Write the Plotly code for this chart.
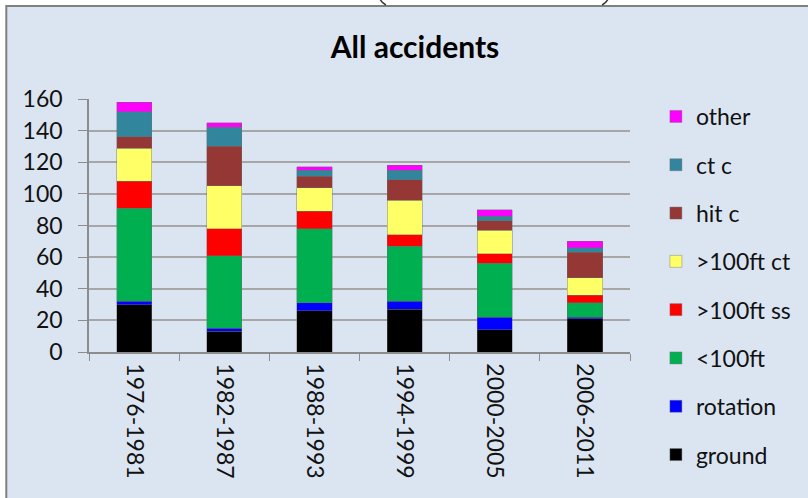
import plotly.graph_objects as go

categories = ["1976-1981", "1982-1987", "1988-1993", "1994-1999", "2000-2005", "2006-2011"]

ground = [30, 13, 26, 27, 14, 21]
rotation = [2, 2, 5, 5, 8, 1]
below_100ft = [59, 46, 47, 35, 34, 9]
above_100ft_ss = [17, 17, 11, 7, 6, 5]
above_100ft_ct = [21, 27, 15, 22, 15, 11]
hit_c = [7, 25, 7, 13, 6, 16]
ct_c = [16, 12, 4, 6, 3, 3]
other = [6, 3, 2, 3, 4, 4]

series_names = ["ground", "rotation", "<100ft", ">100ft ss", ">100ft ct", "hit c", "ct c", "other"]
series_values = [ground, rotation, below_100ft, above_100ft_ss, above_100ft_ct, hit_c, ct_c, other]
series_colors = ["#000000", "#0000ff", "#00b050", "#ff0000", "#ffff66", "#953735", "#31859c", "#ff00ff"]

W, H = 808, 498
ML, MR, MT, MB = 89, 176, 99, 146
PW, PH = W - ML - MR, H - MT - MB


def px_x(p):
    return (p - ML) / PW


def px_y(p):
    return (H - MB - p) / PH


FONT = "Lato, Open Sans, sans-serif"

fig = go.Figure()
n = len(series_names)
for i, (name, vals, col) in enumerate(zip(series_names, series_values, series_colors)):
    fig.add_trace(go.Bar(
        x=categories, y=vals, name=name, legendgroup=f"g{i}", legendrank=n - i,
        marker=dict(color=col, line=dict(color="rgba(110,110,110,0.6)", width=0.7)),
    ))

shapes = [
    # chart area box
    dict(type="rect", xref="paper", yref="paper", layer="below",
         x0=px_x(6), x1=px_x(W + 10), y0=px_y(H + 10), y1=px_y(6),
         fillcolor="#dbe5f1", line=dict(color="#808080", width=2)),
    # remnants of parentheses above the chart
    dict(type="path", xref="paper", yref="paper",
         path=f"M{px_x(381)},{px_y(-1)} Q{px_x(383)},{px_y(3)} {px_x(387)},{px_y(5)}",
         line=dict(color="#333333", width=1.5)),
    dict(type="path", xref="paper", yref="paper",
         path=f"M{px_x(610)},{px_y(-1)} Q{px_x(608)},{px_y(3)} {px_x(604)},{px_y(5)}",
         line=dict(color="#333333", width=1.5)),
]

fig.update_layout(
    width=W, height=H,
    margin=dict(l=ML, r=MR, t=MT, b=MB, pad=0),
    barmode="stack", bargap=0.61,
    paper_bgcolor="#ffffff", plot_bgcolor="#fdeada",
    font=dict(family=FONT, size=23, color="#111111"),
    title=dict(text="<b>All accidents</b>", xref="container", x=415 / W, xanchor="center",
               yref="container", y=1 - 47 / H, yanchor="middle",
               font=dict(family=FONT, size=30, color="#000000")),
    showlegend=True,
    legend=dict(x=px_x(658), xanchor="left", y=px_y(95), yanchor="top",
                traceorder="grouped", tracegroupgap=15.4, maxheight=700,
                bgcolor="rgba(0,0,0,0)", font=dict(family=FONT, size=23, color="#111111")),
    shapes=shapes,
)

fig.update_xaxes(
    type="category", tickangle=90, tickson="boundaries", ticks="outside", ticklen=7,
    tickcolor="#8c8c8c", showline=True, linecolor="#8c8c8c", linewidth=1.5,
    showgrid=False, ticklabelstandoff=5, tickfont=dict(family=FONT, size=23, color="#111111"),
)
fig.update_yaxes(
    range=[0, 160], dtick=20, ticks="outside", ticklen=9, tickcolor="#8c8c8c",
    showline=True, linecolor="#8c8c8c", linewidth=1.5,
    showgrid=True, gridcolor="#a6a6a6", gridwidth=1.5, zeroline=False,
    ticklabelstandoff=11, tickfont=dict(family=FONT, size=23, color="#111111"),
)

fig.write_html("out.html")
